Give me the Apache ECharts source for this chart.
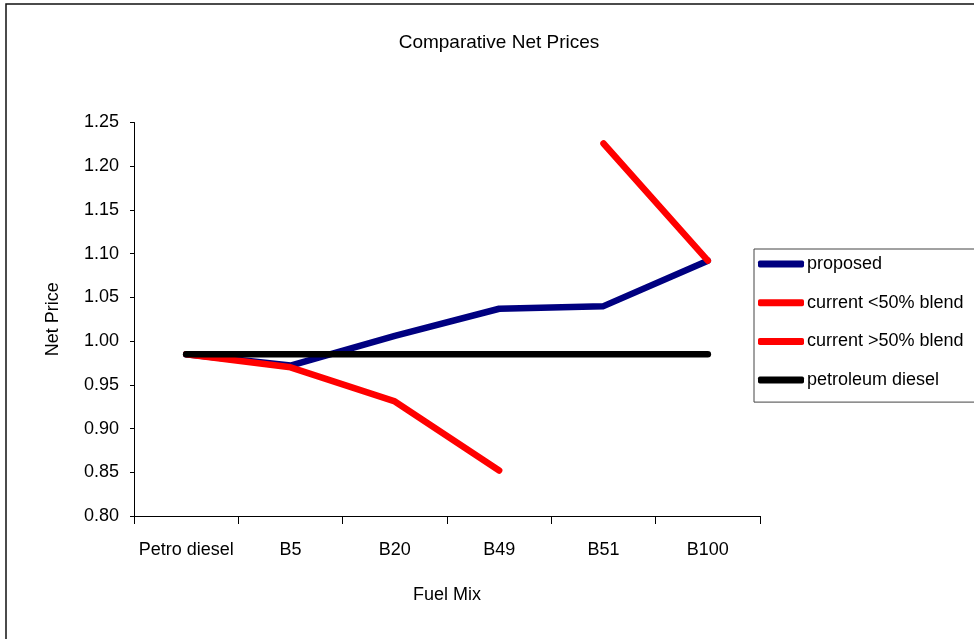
<!DOCTYPE html>
<html>
<head>
<meta charset="utf-8">
<script src="https://cdn.jsdelivr.net/npm/echarts@6/dist/echarts.min.js"></script>
<style>
  html, body { margin: 0; padding: 0; background: #fff; }
  #chart { width: 974px; height: 639px; }
</style>
</head>
<body>
<div id="chart"></div>
<script>
const categories = ['Petro diesel', 'B5', 'B20', 'B49', 'B51', 'B100'];
const proposed = [0.985, 0.972, 1.006, 1.037, 1.040, 1.092];
const currentBelow50 = [0.985, 0.970, 0.931, 0.852, null, null];
const currentAbove50 = [null, null, null, null, 1.226, 1.092];
const petroleumDiesel = [0.985, 0.985, 0.985, 0.985, 0.985, 0.985];

const font = "'Liberation Sans', Arial, sans-serif";

function lineSeries(name, data, color) {
  return {
    name: name,
    type: 'line',
    data: data,
    showSymbol: false,
    symbol: 'none',
    connectNulls: false,
    color: color,
    lineStyle: { color: color, width: 6.5, cap: 'round', join: 'round' },
    emphasis: { disabled: true }
  };
}

const chart = echarts.init(document.getElementById('chart'), null, { renderer: 'canvas' });

const option = {
  backgroundColor: '#fff',
  animation: false,
  textStyle: { fontFamily: font, color: '#000' },
  title: {
    text: 'Comparative Net Prices',
    left: 494,
    textAlign: 'center',
    top: 28,
    textStyle: { fontFamily: font, fontSize: 19, fontWeight: 'normal', color: '#000' }
  },
  graphic: [{
    type: 'rect',
    shape: { x: 6, y: 4, width: 1100, height: 800 },
    style: { fill: 'none', stroke: '#111', lineWidth: 1.5 },
    silent: true,
    z: -1
  }],
  legend: {
    orient: 'vertical',
    left: 754,
    top: 249,
    padding: [6, 200, 13, 4],
    itemGap: 20.7,
    itemWidth: 46,
    itemHeight: 7,
    icon: 'roundRect',
    backgroundColor: '#fff',
    borderColor: '#444',
    borderWidth: 1,
    textStyle: { fontFamily: font, fontSize: 18, color: '#000', lineHeight: 18, padding: [0, 0, 0, -2] },
    data: ['proposed', 'current <50% blend', 'current >50% blend', 'petroleum diesel']
  },
  grid: { left: 134, right: 214, top: 122.5, bottom: 123, containLabel: false },
  xAxis: {
    type: 'category',
    data: categories,
    boundaryGap: true,
    name: 'Fuel Mix',
    nameLocation: 'middle',
    nameGap: 70,
    nameTextStyle: { fontFamily: font, fontSize: 18, color: '#000' },
    axisLine: { lineStyle: { color: '#000', width: 1 } },
    axisTick: { show: true, interval: 0, length: 8, lineStyle: { color: '#000' } },
    axisLabel: { interval: 0, fontFamily: font, fontSize: 18, color: '#000', margin: 25 },
    splitLine: { show: false }
  },
  yAxis: {
    type: 'value',
    min: 0.8,
    max: 1.25,
    interval: 0.05,
    name: 'Net Price',
    nameLocation: 'middle',
    nameGap: 72,
    nameRotate: 90,
    nameTextStyle: { fontFamily: font, fontSize: 18, color: '#000' },
    axisLine: { show: true, lineStyle: { color: '#000', width: 1 } },
    axisTick: { show: true, length: 4, lineStyle: { color: '#000' } },
    axisLabel: {
      fontFamily: font, fontSize: 18, color: '#000', margin: 15,
      formatter: function (v) { return v.toFixed(2); }
    },
    splitLine: { show: false }
  },
  series: [
    lineSeries('proposed', proposed, '#000080'),
    lineSeries('current <50% blend', currentBelow50, '#ff0000'),
    lineSeries('current >50% blend', currentAbove50, '#ff0000'),
    lineSeries('petroleum diesel', petroleumDiesel, '#000000')
  ]
};

chart.setOption(option);
</script>
</body>
</html>
